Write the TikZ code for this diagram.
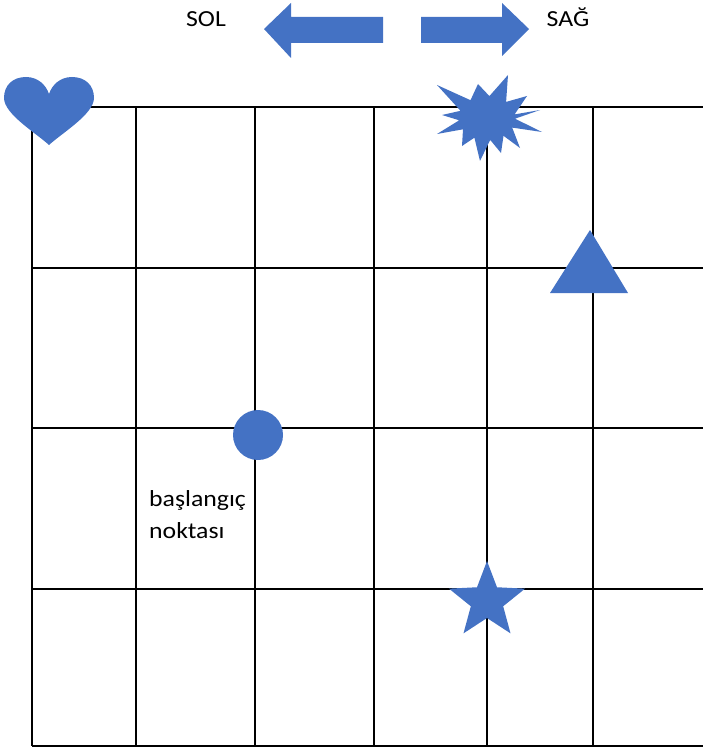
\documentclass[tikz,border=0pt]{standalone}
\usepackage{fontspec}
\setmainfont{Carlito}
\definecolor{wordblue}{HTML}{4472C4}
\begin{document}
\begin{tikzpicture}[x=1pt,y=-1pt,
  gridline/.style={line width=1.6pt,black},
  shapefill/.style={fill=wordblue},
  lbl/.style={font=\fontsize{23}{32}\selectfont, inner sep=0pt, xscale=1.12}]
\useasboundingbox (0,0) rectangle (703,749);
% grid
\foreach \x in {32,136,255,374,487,593} \draw[gridline] (\x,107) -- (\x,746);
\foreach \y in {107,268,428,589,746} \draw[gridline] (32,\y) -- (703,\y);
% arrows
\fill[shapefill] (264,29) -- (291,3) -- (291,17) -- (383,17) -- (383,43) -- (291,43) -- (291,58) -- cycle;
\fill[shapefill] (529,29) -- (502,3) -- (502,17) -- (421,17) -- (421,43) -- (502,43) -- (502,56) -- cycle;
\node[lbl, anchor=base] (sol) at (206,27) {SOL};
\node[lbl, anchor=base] (sag) at (568,27) {SAĞ};
% heart
\fill[shapefill] (49,145) .. controls (36,133) and (4,114) .. (4,98)
  .. controls (4,85) and (13,77) .. (26,77)
  .. controls (38,77) and (46,85) .. (49,94)
  .. controls (52,85) and (60,77) .. (72,77)
  .. controls (85,77) and (94,85) .. (94,98)
  .. controls (94,114) and (62,133) .. (49,145) -- cycle;
% starburst
\begin{scope}[shift={(487,118)}]
\fill[shapefill] (53,-8) -- (28,0.7) -- (55,14) -- (25.2,9.6) -- (33,30) -- (16.5,17.8)
  -- (14,35) -- (3.2,21.9) -- (-7,43) -- (-12.6,19.7) -- (-25,28) -- (-24,11.3)
  -- (-50,16) -- (-27.8,2.3) -- (-45,-3) -- (-26.5,-7.2) -- (-50,-33) -- (-16.5,-17.8)
  -- (-9,-34) -- (2.4,-21.9) -- (21,-43) -- (19.1,-16.1) -- (40,-22) -- (27.6,-3.6) -- cycle;
\end{scope}
% triangle
\fill[shapefill] (590,230) -- (628,293) -- (550,293) -- cycle;
% circle
\fill[shapefill] (258,435) circle[radius=25];
% five-point star
\begin{scope}[shift={(487,601)}]
\fill[shapefill] (-90:40) -- (-54:17) -- (-18:40) -- (18:17) -- (54:40) -- (90:17)
  -- (126:40) -- (162:17) -- (198:40) -- (234:17) -- cycle;
\end{scope}
% start label
\node[lbl, anchor=base west] (bas) at (149,506) {başlangıç};
\node[lbl, anchor=base west] (nok) at (149,538) {noktası};
\end{tikzpicture}
\end{document}
